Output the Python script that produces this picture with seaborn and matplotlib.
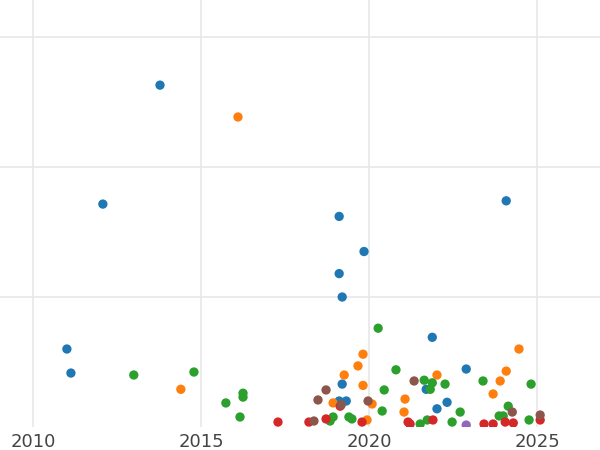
import pandas as pd
import seaborn as sns
import matplotlib.pyplot as plt

# values
blue_x = [2013.78, 2012.08, 2019.11, 2019.85, 2019.11, 2019.2, 2011.01, 2011.13, 2021.88, 2024.08,
          2019.2, 2019.11, 2019.32, 2022.89, 2021.7, 2022.32, 2022.02]
blue_y = [263, 171.5, 162, 135, 118, 100, 60, 41.5, 69, 174, 33, 20, 20, 44.6, 29, 19, 14]
orange_x = [2016.1, 2014.4, 2019.82, 2019.67, 2019.26, 2019.82, 2018.93, 2020.09, 2019.94, 2021.07,
            2021.04, 2022.02, 2023.9, 2024.08, 2024.46, 2023.69]
orange_y = [238.5, 29, 56, 47, 40, 32, 18.5, 17.7, 5.4, 21.5, 11.5, 40, 35.4, 43, 60, 25.4]
green_x = [2013.0, 2014.79, 2016.25, 2016.25, 2015.74, 2016.16, 2020.27, 2020.45, 2020.8, 2020.39,
           2018.93, 2018.84, 2019.4, 2019.49, 2021.64, 2021.88, 2022.26, 2021.82, 2022.71, 2023.39,
           2024.82, 2023.87, 2023.99, 2024.14, 2024.76, 2022.47, 2021.52, 2021.73]
green_y = [40, 42.3, 26, 23, 18.5, 7.7, 76, 28.5, 44, 12.3, 7.7, 4.6, 7.7, 6.2, 36, 34, 33, 29, 11.5,
           35.4, 33, 8.5, 8.5, 16, 5.4, 3.8, 2.3, 5.4]
red_x = [2017.29, 2018.21, 2018.72, 2019.14, 2019.79, 2021.16, 2021.22, 2021.9, 2023.42, 2023.69,
         2024.29, 2025.09, 2024.05]
red_y = [3.8, 3.8, 6.2, 16, 3.8, 3.8, 2.3, 5.4, 2.3, 2.3, 3.1, 5.4, 3.8]
purple_x = [2022.89]
purple_y = [1.5]
brown_x = [2018.72, 2018.48, 2019.17, 2019.97, 2021.34, 2024.26, 2025.09, 2018.36]
brown_y = [28.5, 20.8, 17, 20, 35.4, 11.5, 9.2, 4.6]

groups = ["a", "b", "c", "d", "e", "f"]
xs = [blue_x, orange_x, green_x, red_x, purple_x, brown_x]
ys = [blue_y, orange_y, green_y, red_y, purple_y, brown_y]
df = pd.concat([pd.DataFrame({"year": x, "value": y, "group": g}) for g, x, y in zip(groups, xs, ys)])

sns.set_style("whitegrid")
fig = plt.figure(figsize=(6, 4.5), dpi=100)
ax = fig.add_axes([0, 23 / 450, 1, 427 / 450])
sns.scatterplot(data=df, x="year", y="value", hue="group", palette="tab10", s=45,
                edgecolor="none", legend=False, ax=ax, clip_on=True)
ax.set_xlim(2009.02, 2026.87)
ax.set_ylim(0, 328.5)
ax.set_xticks([2010, 2015, 2020, 2025])
ax.set_yticks([100, 200, 300])
ax.set_yticklabels([])
ax.tick_params(axis="x", labelsize=13, colors="#444444", length=0, pad=4)
ax.tick_params(axis="y", length=0)
ax.grid(color="#e8e8e8", linewidth=1.2)
for s in ax.spines.values():
    s.set_visible(False)
ax.set_xlabel("")
ax.set_ylabel("")
fig.savefig("out.png", dpi=100)
